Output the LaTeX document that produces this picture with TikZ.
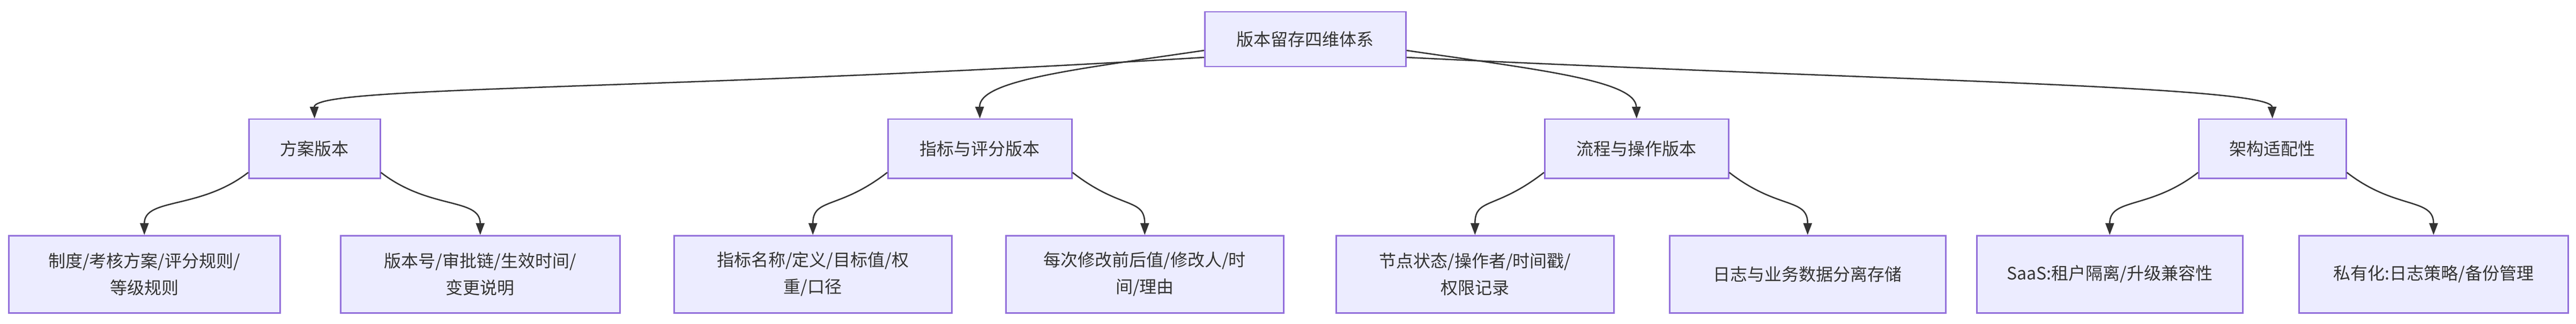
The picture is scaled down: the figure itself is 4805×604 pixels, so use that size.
\documentclass[tikz,border=0pt]{standalone}
\usepackage{fontspec}
\setmainfont{Noto Sans CJK SC}
\usetikzlibrary{arrows.meta}
\definecolor{nf}{HTML}{ECECFF}
\definecolor{nb}{HTML}{9370DB}
\definecolor{ln}{HTML}{333333}
\begin{document}
\begin{tikzpicture}[x=1pt,y=-1pt,
  box/.style={draw=nb,fill=nf,line width=2.5pt,text=ln,font=\fontsize{32}{50}\selectfont,align=center,inner sep=0pt,anchor=north west},
  arr/.style={draw=ln,line width=2.5pt,-{Triangle[length=22pt,width=16pt]}}]
\useasboundingbox (0,0) rectangle (4805,604);
\newcommand{\bx}[6]{\node[box,minimum width=#4-#2,minimum height=#5-#3] (#1) at (#2,#3) {#6};}
\bx{root}{2246}{21}{2621}{123}{版本留存四维体系}
\bx{a}{463}{221}{708}{331}{方案版本}
\bx{b}{1655}{221}{1998}{331}{指标与评分版本}
\bx{c}{2880}{221}{3223}{331}{流程与操作版本}
\bx{d}{4100}{221}{4375}{331}{架构适配性}
\bx{a1}{15}{438}{521}{582}{制度/考核方案/评分规则/\\等级规则}
\bx{a2}{634}{438}{1155}{582}{版本号/审批链/生效时间/\\变更说明}
\bx{b1}{1256}{438}{1774}{582}{指标名称/定义/目标值/权\\重/口径}
\bx{b2}{1875}{438}{2393}{582}{每次修改前后值/修改人/时\\间/理由}
\bx{c1}{2491}{438}{3009}{582}{节点状态/操作者/时间戳/\\权限记录}
\bx{c2}{3113}{438}{3628}{582}{日志与业务数据分离存储}
\bx{d1}{3686}{438}{4182}{582}{SaaS:租户隔离/升级兼容性}
\bx{d2}{4287}{438}{4789}{582}{私有化:日志策略/备份管理}
\draw[arr] (root.west|-0,107) .. controls (1200,170) and (585,160) .. (a.north);
\draw[arr] (root.west|-0,94) .. controls (2000,130) and (1826,150) .. (b.north);
\draw[arr] (root.east|-0,94) .. controls (2870,130) and (3051,150) .. (c.north);
\draw[arr] (root.east|-0,107) .. controls (3500,150) and (4237,160) .. (d.north);
\foreach \p/\q in {a/a1,b/b1,c/c1,d/d1}
  \draw[arr] (\p.south west)+(0,-12) .. controls +(-90,70) and +(0,-70) .. (\q.north);
\foreach \p/\q in {a/a2,b/b2,c/c2,d/d2}
  \draw[arr] (\p.south east)+(0,-12) .. controls +(90,70) and +(0,-70) .. (\q.north);
\end{tikzpicture}
\end{document}
